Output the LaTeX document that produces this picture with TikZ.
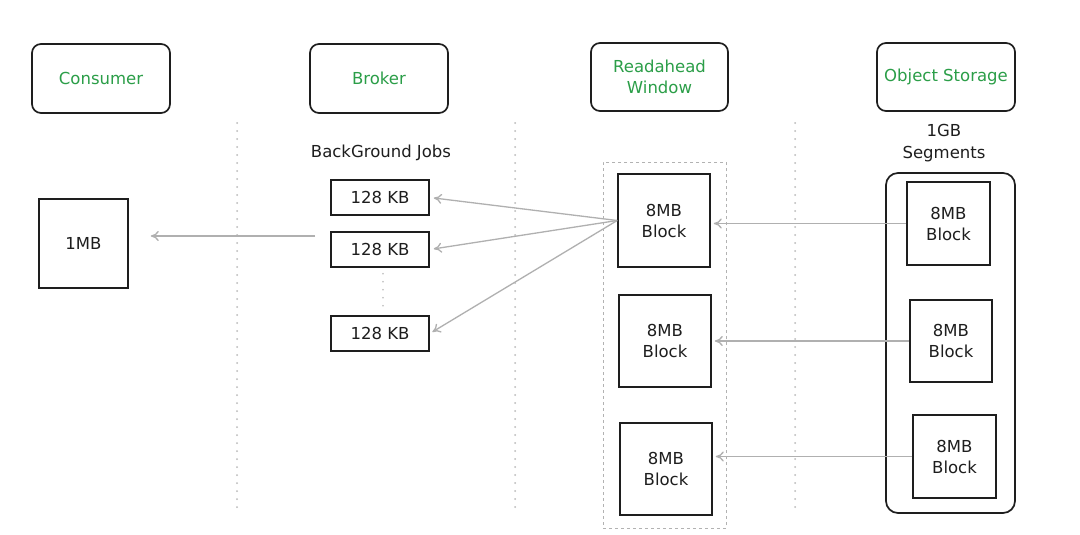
\documentclass[tikz,border=0pt]{standalone}
\usepackage{fontspec}
\setmainfont{DejaVu Sans}
\usetikzlibrary{arrows.meta}
\definecolor{hgreen}{HTML}{2B9E48}
\definecolor{ink}{HTML}{1E1E1E}
\definecolor{arrgray}{HTML}{B0B0B0}
\tikzset{
  head/.style={draw=ink, line width=1.7pt, rounded corners=9pt, text=hgreen, align=center, font=\fontsize{16.5}{21}\selectfont, inner sep=0pt},
  blk/.style={draw=ink, line width=1.6pt, text=ink, align=center, font=\fontsize{16.5}{21}\selectfont, inner sep=0pt},
  lbl/.style={text=ink, align=center, font=\fontsize{16.5}{22}\selectfont},
  sep/.style={draw=gray!55, line width=2pt, line cap=round, dash pattern=on 0pt off 8pt},
  arr/.style={draw=arrgray, line width=1.3pt, -{To[length=8pt,width=10pt]}},
}
\begin{document}
\begin{tikzpicture}[x=1pt,y=-1pt]
\useasboundingbox[fill=white] (0,0) rectangle (1080,535);
% headers
\node[head, minimum width=138pt, minimum height=69pt] (cons) at (101,78.5) {Consumer};
\node[head, minimum width=138pt, minimum height=69pt] (brok) at (379,78.5) {Broker};
\node[head, minimum width=137pt, minimum height=68pt] (rwin) at (659.5,77) {Readahead\\Window};
\node[head, minimum width=138pt, minimum height=68pt] (obst) at (946,77) {Object Storage};
% separators
\coordinate (s1t) at (237,123); \coordinate (s1b) at (237,510);
\coordinate (s2t) at (515,123); \coordinate (s2b) at (515,510);
\coordinate (s3t) at (795,123); \coordinate (s3b) at (795,510);
\draw[sep] (s1t) -- (s1b);
\draw[sep] (s2t) -- (s2b);
\draw[sep] (s3t) -- (s3b);
% consumer
\node[blk, minimum width=89pt, minimum height=89pt] (mb) at (83.5,243.5) {1MB};
% broker
\node[lbl] (bgj) at (381,153) {BackGround Jobs};
\node[blk, minimum width=98pt, minimum height=35pt] (kb1) at (380,197.5) {128 KB};
\node[blk, minimum width=98pt, minimum height=35pt] (kb2) at (380,249.5) {128 KB};
\node[blk, minimum width=98pt, minimum height=35pt] (kb3) at (380,333.5) {128 KB};
\draw[sep, line width=1.8pt] ([xshift=3pt,yshift=-6pt]kb2.south) -- ([xshift=3pt,yshift=6pt]kb3.north);
% readahead window
\node[draw=gray!60, dashed, line width=1pt, minimum width=123pt, minimum height=366pt, inner sep=0pt] (win) at (664.5,345) {};
\node[blk, minimum width=92pt, minimum height=93pt] (lb1) at (664,220.5) {8MB\\Block};
\node[blk, minimum width=92pt, minimum height=92pt] (lb2) at (665,341) {8MB\\Block};
\node[blk, minimum width=92pt, minimum height=92pt] (lb3) at (666,469) {8MB\\Block};
% object storage
\node[lbl] (seg) at (944,143) {1GB\\Segments};
\node[draw=ink, line width=1.7pt, rounded corners=12pt, minimum width=129pt, minimum height=340pt, inner sep=0pt] (segbox) at (950.5,343) {};
\node[blk, minimum width=83pt, minimum height=83pt] (rb1) at (948.5,223.5) {8MB\\Block};
\node[blk, minimum width=82pt, minimum height=82pt] (rb2) at (951,341) {8MB\\Block};
\node[blk, minimum width=83pt, minimum height=83pt] (rb3) at (954.5,456.5) {8MB\\Block};
% arrows
\coordinate (mbend) at (315,236);
\draw[arr] (mbend) -- ([xshift=22pt]mb.east |- mbend);
\draw[arr, shorten >=4pt] (lb1.west) -- (kb1.east);
\draw[arr, shorten >=4pt] (lb1.west) -- (kb2.east);
\draw[arr, shorten >=3pt] (lb1.west) -- (kb3.east);
\draw[arr, shorten >=3pt] (rb1.west) -- (lb1.east |- rb1.west);
\draw[arr, shorten >=3pt] (rb2.west) -- (lb2.east |- rb2.west);
\draw[arr, shorten >=3pt] (rb3.west) -- (lb3.east |- rb3.west);
\end{tikzpicture}
\end{document}
